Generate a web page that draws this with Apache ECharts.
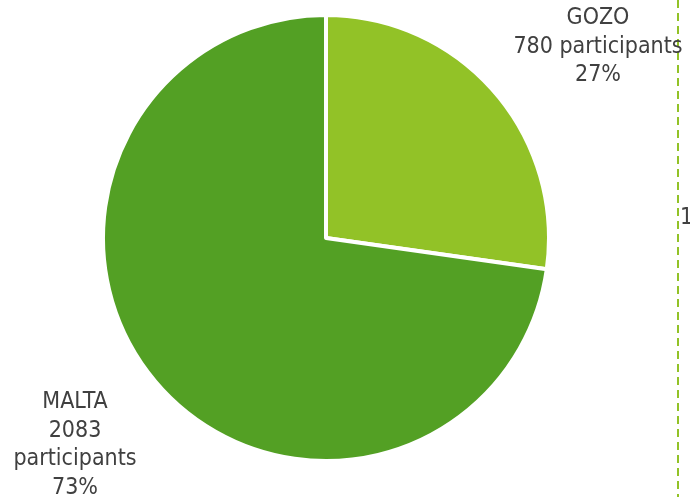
<!DOCTYPE html>
<html>
<head>
<meta charset="utf-8">
<script src="https://cdn.jsdelivr.net/npm/echarts@6/dist/echarts.min.js"></script>
<style>
  html, body { margin: 0; padding: 0; background: #ffffff; }
  #chart { width: 690px; height: 497px; }
</style>
</head>
<body>
<div id="chart"></div>
<script>
// Participants by island
const islands = ['GOZO', 'MALTA'];
const participants = [780, 2083];
const sliceColors = ['#92C227', '#53A024'];
const seriesMarker = '1';

const total = participants.reduce((a, b) => a + b, 0);

const labelFont = '"DejaVu Sans Condensed", "DejaVu Sans", sans-serif';

const labelText = {
  GOZO: (name, v, p) => `${name}\n${v} participants\n${p}%`,
  MALTA: (name, v, p) => `${name}\n${v}\nparticipants\n${p}%`
};
const labelAnchor = {
  GOZO: { x: 598, y: 47 },
  MALTA: { x: 75, y: 445 }
};

const chart = echarts.init(document.getElementById('chart'), null, { renderer: 'canvas' });

chart.setOption({
  backgroundColor: '#ffffff',
  animation: false,
  series: [{
    type: 'pie',
    center: [326, 238],
    radius: 223,
    startAngle: 90,
    clockwise: true,
    avoidLabelOverlap: false,
    itemStyle: { borderColor: '#ffffff', borderWidth: 4 },
    label: {
      show: true,
      position: 'outside',
      color: '#404040',
      fontFamily: labelFont,
      fontSize: 23,
      lineHeight: 28.5,
      align: 'center',
      formatter: (p) => labelText[p.name](p.name, p.value, Math.round(p.value / total * 100))
    },
    labelLine: { show: false },
    labelLayout: (params) => {
      const name = islands[params.dataIndex];
      const a = labelAnchor[name];
      return { x: a.x, y: a.y, align: 'center', verticalAlign: 'middle' };
    },
    data: islands.map((n, i) => ({
      name: n,
      value: participants[i],
      itemStyle: { color: sliceColors[i] }
    }))
  }],
  graphic: [
    {
      type: 'line',
      shape: { x1: 678, y1: 0, x2: 678, y2: 497 },
      style: { stroke: '#92C227', lineWidth: 2, lineDash: [8, 5] }
    },
    {
      type: 'text',
      left: 680,
      top: 207,
      style: { text: seriesMarker, fill: '#404040', font: '23px ' + labelFont }
    }
  ]
});
</script>
</body>
</html>
